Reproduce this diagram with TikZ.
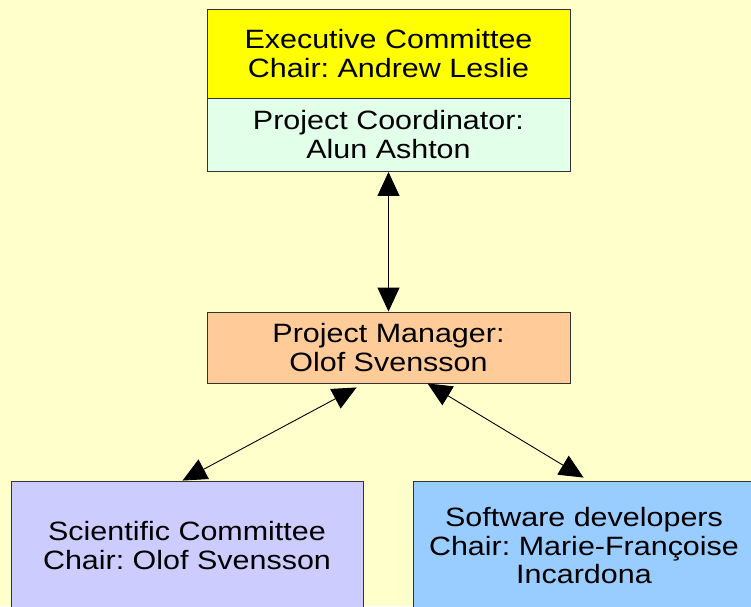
\documentclass[tikz,border=0pt]{standalone}
\usepackage{fontspec}
\setmainfont[FakeStretch=1.15]{Liberation Sans}
\usetikzlibrary{arrows.meta}
\frenchspacing
\definecolor{bgyellow}{HTML}{FFFFCC}
\definecolor{execyellow}{HTML}{FFFF00}
\definecolor{coordmint}{HTML}{E2FFEA}
\definecolor{pmorange}{HTML}{FFCC99}
\definecolor{scilav}{HTML}{CCCCFF}
\definecolor{softblue}{HTML}{99CCFF}
\definecolor{edgegray}{HTML}{333333}
\tikzset{
  box/.style={draw=edgegray, line width=0.9pt, rectangle, inner sep=0pt,
    align=center, font=\fontsize{26.5}{28.5}\selectfont, text=black},
  biarrow/.style={line width=0.9pt, {Triangle[length=24pt,width=22pt]}-{Triangle[length=24pt,width=22pt]}}
}
\begin{document}
\begin{tikzpicture}[x=1pt, y=-1pt]
  % canvas and background
  \useasboundingbox (0,0) rectangle (751,606);
  \clip (0,0) rectangle (751,606);
  \fill[bgyellow] (0,0) rectangle (751,606);

  % executive committee with the coordinator panel beneath it
  \node[box, fill=execyellow, minimum width=363pt, minimum height=89pt] (exec) at (388.5,53.5)
    {Executive Committee\\Chair: Andrew Leslie};
  \node[box, fill=coordmint, minimum width=363pt, minimum height=73.5pt] (coord) at (388.5,134.75)
    {Project Coordinator:\\Alun Ashton};

  % project manager
  \node[box, fill=pmorange, minimum width=363pt, minimum height=71pt] (pm) at (388.5,347.5)
    {Project Manager:\\Olof Svensson};

  % lower row, running off the bottom edge
  \node[box, fill=scilav, minimum width=352pt, minimum height=129pt] (sci) at (187,545.5)
    {Scientific Committee\\Chair: Olof Svensson};
  \node[box, fill=softblue, minimum width=342pt, minimum height=130pt] (soft) at (584,546)
    {Software developers\\Chair: Marie-Françoise\\Incardona};

  % connectors
  \draw[biarrow] (coord.south) -- (pm.north);
  \draw[biarrow] ([shift={(150pt,-4pt)}]pm.south west) -- ([shift={(172pt,0pt)}]sci.north west);
  \draw[biarrow] ([shift={(221pt,0pt)}]pm.south west) -- ([shift={(171pt,3pt)}]soft.north west);
\end{tikzpicture}
\end{document}
